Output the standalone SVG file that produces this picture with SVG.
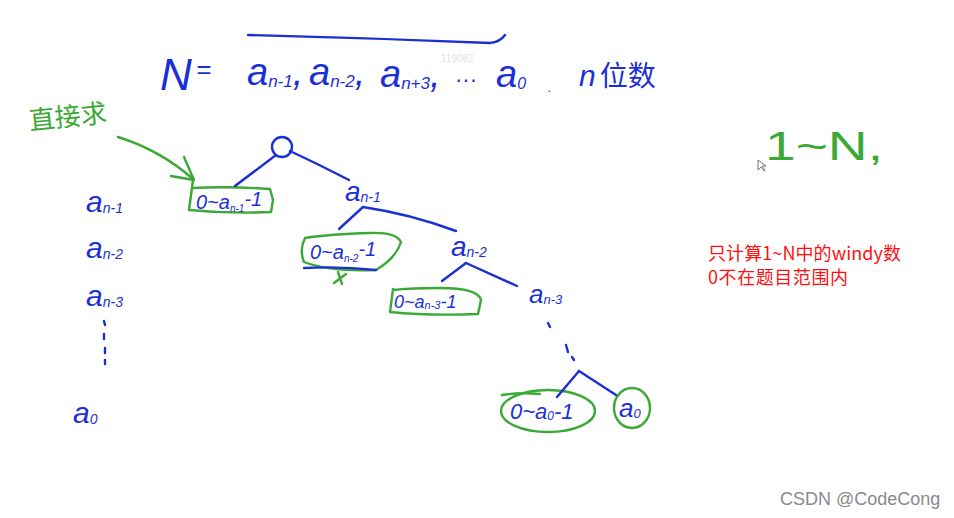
<svg xmlns="http://www.w3.org/2000/svg" width="954" height="518" viewBox="0 0 954 518">
<style>
.b{fill:#1b2fd6;font-family:"Liberation Sans","DejaVu Sans",sans-serif;font-style:italic}
.g{fill:#3aa935;font-family:"Liberation Sans","Noto Sans CJK SC",sans-serif}
.bl{fill:none;stroke:#1b2fd6;stroke-width:2.4;stroke-linecap:round;stroke-linejoin:round}
.gl{fill:none;stroke:#3aa935;stroke-width:2.4;stroke-linecap:round;stroke-linejoin:round}
.red{fill:#ff1010;font-family:"Noto Sans CJK SC","Liberation Serif",sans-serif;font-size:18px}
</style>
<rect width="954" height="518" fill="#ffffff"/>

<g id="header">
<path class="bl" d="M248,35 Q370,38 490,43 Q500,42 505,35"/>
<text class="b" x="160" y="90" font-size="44">N</text>
<text class="b" x="196" y="78" font-size="26">=</text>
<text class="b" x="247" y="85" font-size="38">a<tspan font-size="17" dy="2">n-1</tspan><tspan dy="-2">,</tspan></text>
<text class="b" x="309" y="85" font-size="38">a<tspan font-size="17" dy="2">n-2</tspan><tspan dy="-2">,</tspan></text>
<text class="b" x="380" y="87" font-size="38">a<tspan font-size="17" dy="2">n+3</tspan><tspan dy="-2">,</tspan></text>
<text x="441" y="62" font-size="10" fill="#e2e2e2" font-family="Liberation Sans,sans-serif">119082</text>
<text class="b" x="455" y="87" font-size="22">···</text>
<text class="b" x="496" y="87" font-size="38">a<tspan font-size="16" dy="2">0</tspan></text>
<text class="b" x="548" y="92" font-size="12">.</text>
<text class="b" x="579" y="86" font-size="30">n<tspan font-family="Noto Sans CJK SC,sans-serif" font-style="normal" font-size="28" dx="4">位数</tspan></text>
</g>

<g id="note-direct">
<text class="g" x="30" y="130" font-size="26" font-family="Noto Sans CJK SC,sans-serif" transform="rotate(-6 30 130)">直接求</text>
</g>

<g id="left-column">
<text class="b" x="86" y="212" font-size="30">a<tspan font-size="14" dy="1">n-1</tspan></text>
<text class="b" x="86" y="258" font-size="30">a<tspan font-size="14" dy="1">n-2</tspan></text>
<text class="b" x="86" y="306" font-size="30">a<tspan font-size="14" dy="1">n-3</tspan></text>
<path class="bl" d="M104,321 L105,325 M104,334 L104,339 M105,348 L105,353 M105,360 L105,364" stroke-width="1.8"/>
<text class="b" x="73" y="423" font-size="30">a<tspan font-size="14" dy="1">0</tspan></text>
</g>

<g id="root"><circle class="bl" cx="282" cy="147" r="10"/></g>

<g id="range1">
<path class="gl" d="M193,180 L191,195 L189,210 Q230,214 271,212 L273,200 L270,189 Q230,186 192,188"/>
<text class="b" x="196" y="209" font-size="20">0~a<tspan font-size="10" dy="3">n-1</tspan><tspan dy="-6">-1</tspan></text>
</g>

<g id="node-an1"><text class="b" x="345" y="201" font-size="28">a<tspan font-size="14" dy="1">n-1</tspan></text></g>

<g id="range2">
<path class="gl" d="M305,238 Q299,250 304,262 Q330,272 376,270 Q396,258 401,242 Q396,232 370,233 Q330,234 305,238 Z"/>
<path class="bl" d="M304,268 Q340,266 376,270"/>
<path class="gl" d="M334,283 L346,274 M338,272 L342,284" stroke-width="1.8"/>
<text class="b" x="310" y="259" font-size="20">0~a<tspan font-size="10" dy="3">n-2</tspan><tspan dy="-6">-1</tspan></text>
</g>

<g id="node-an2"><text class="b" x="451" y="256" font-size="28">a<tspan font-size="14" dy="1">n-2</tspan></text></g>

<g id="range3">
<path class="gl" d="M393,289 L390,312 Q430,316 478,314 L481,300 Q478,288 440,288 Q410,288 393,290"/>
<text class="b" x="394" y="308" font-size="18">0~a<tspan font-size="11" dy="1">n-3</tspan><tspan dy="-1">-1</tspan></text>
</g>

<g id="node-an3"><text class="b" x="529" y="303" font-size="26">a<tspan font-size="13" dy="1">n-3</tspan></text></g>

<g id="range0">
<ellipse class="gl" cx="548" cy="411" rx="47" ry="21"/>
<path class="gl" d="M502,395 Q520,392 540,394"/>
<text class="b" x="510" y="419" font-size="22">0~a<tspan font-size="12" dy="1">0</tspan><tspan dy="-1">-1</tspan></text>
</g>

<g id="node-a0">
<ellipse class="gl" cx="632" cy="408" rx="18" ry="20"/>
<text class="b" x="619" y="417" font-size="26">a<tspan font-size="13" dy="1">0</tspan></text>
</g>

<g id="connectors">
<path class="gl" d="M118,137 Q160,150 193,179"/>
<path class="gl" d="M184,157 L194,180 L171,176"/>
<path class="bl" d="M276,155 L235,186"/>
<path class="bl" d="M290,151 Q320,165 349,180"/>
<path class="bl" d="M363,207 L339,229"/>
<path class="bl" d="M363,207 Q410,214 456,231"/>
<path class="bl" d="M466,263 L442,281"/>
<path class="bl" d="M466,263 L517,286"/>
<path class="bl" d="M548,323 L550,327 M566,345 L568,352 M572,357 L574,360" stroke-width="1.8"/>
<path class="bl" d="M579,371 L557,397"/>
<path class="bl" d="M579,371 L616,395"/>
</g>

<g id="note-range">
<text x="765" y="160" font-size="40" fill="#3aa935" font-family="Liberation Sans,sans-serif" textLength="118" lengthAdjust="spacingAndGlyphs">1~N,</text>
<path d="M758,160 L758,170 L761,167 L764,171 L765,170 L762,166 L766,166 Z" fill="#ffffff" stroke="#555" stroke-width="0.8"/>
</g>

<g id="note-red">
<text class="red" x="708" y="260" textLength="193" lengthAdjust="spacing">只计算1~N中的windy数</text>
<text class="red" x="708" y="284" textLength="140" lengthAdjust="spacing">0不在题目范围内</text>
</g>

<text x="780" y="505" font-size="18" fill="#8a8a8a" font-family="Liberation Sans,sans-serif">CSDN @CodeCong</text>
</svg>
